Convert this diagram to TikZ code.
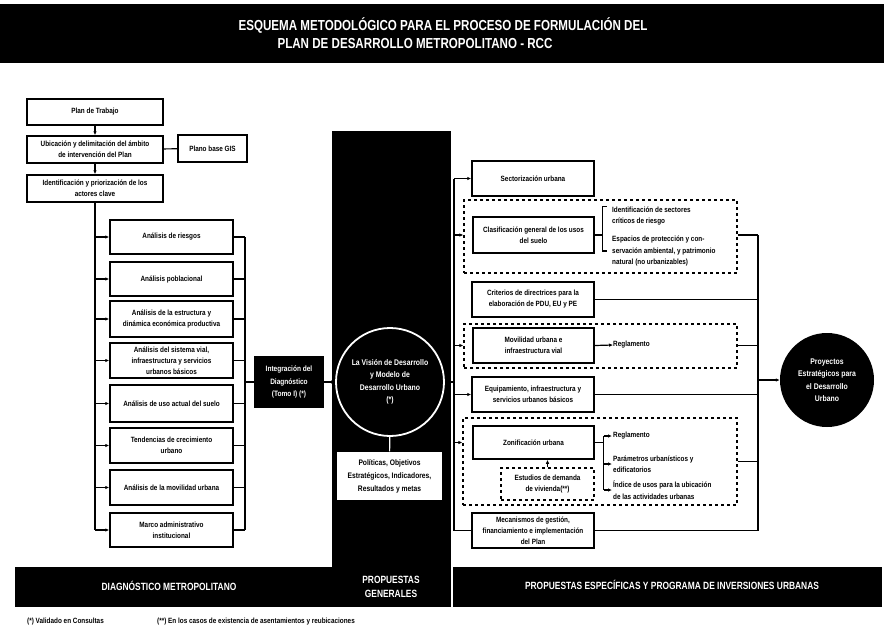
\documentclass[tikz,border=0pt]{standalone}
\usepackage{fontspec}
\setmainfont{Liberation Sans}[FakeStretch=0.84]
\newfontfamily\titlefont{Liberation Sans}[FakeStretch=0.8]
\usepackage{xcolor}
\usepackage{tikz}
\usetikzlibrary{arrows.meta}
\definecolor{PDMInk}{HTML}{000000}
\definecolor{PDMPaper}{HTML}{FFFFFF}

\begin{document}
\begin{tikzpicture}[x=1pt,y=-1pt,
  box/.style={draw=PDMInk,line width=1.5pt,fill=PDMPaper,align=center,inner sep=0pt,font=\bfseries\fontsize{7.6}{11}\selectfont},
  dbox/.style={box,dashed,line width=1.2pt},
  grp/.style={draw=PDMInk,line width=1.2pt,dashed,inner sep=0pt},
  lnk/.style={draw=PDMInk,line width=1.2pt},
  arr/.style={lnk,-{Latex[length=4pt,width=3.5pt]}},
  note/.style={anchor=west,align=left,inner sep=0pt,font=\bfseries\fontsize{7.6}{11.5}\selectfont},
  ttl/.style={text=PDMPaper,inner sep=0pt,font=\titlefont\bfseries\fontsize{14.5}{17}\selectfont},
  bartxt/.style={text=PDMPaper,align=center,inner sep=0pt,font=\titlefont\bfseries\fontsize{10.5}{14}\selectfont},
  ring/.style={circle,inner sep=0pt,align=center,text=PDMPaper,font=\bfseries\fontsize{8.2}{12.5}\selectfont}]
\path[use as bounding box] (0,0) rectangle (884,629);
\fill[PDMInk] (0,4) rectangle (884,63);
\node[ttl] (title1) at (443,26) {ESQUEMA METODOLÓGICO PARA EL PROCESO DE FORMULACIÓN DEL};
\node[ttl] (title2) at (415,44) {PLAN DE DESARROLLO METROPOLITANO - RCC};
\fill[PDMInk] (332,131) rectangle (451,567);
\fill[PDMInk] (15,567) rectangle (882,607);
\draw[PDMPaper,line width=1.4pt] (452,567) -- (452,607);
\node[bartxt] (bar1) at (169,586) {DIAGNÓSTICO METROPOLITANO};
\node[bartxt] (bar2) at (391,587) {PROPUESTAS\\GENERALES};
\node[bartxt] (bar3) at (672,585) {PROPUESTAS ESPECÍFICAS Y PROGRAMA DE INVERSIONES URBANAS};
\node[note] (fn1) at (27,622) {(*) Validado en Consultas};
\node[note] (fn2) at (157,622) {(**) En los casos de existencia de asentamientos y reubicaciones};
\node[box,minimum width=136pt,minimum height=26pt] (plan) at (95,112) {Plan de Trabajo};
\node[box,minimum width=136pt,minimum height=27pt] (ubic) at (95,149.5) {Ubicación y delimitación del ámbito\\de intervención del Plan};
\node[box,minimum width=69pt,minimum height=27pt] (gis) at (212.5,148.5) {Plano base GIS};
\node[box,minimum width=136pt,minimum height=27pt] (ident) at (95,188.5) {Identificación y priorización de los\\actores clave};
\node[box,minimum width=123pt,minimum height=34pt] (a1) at (171.5,237) {Análisis de riesgos};
\node[box,minimum width=123pt,minimum height=34pt] (a2) at (171.5,279) {Análisis poblacional};
\node[box,minimum width=123pt,minimum height=36pt] (a3) at (171.5,319) {Análisis de la estructura y\\dinámica económica productiva};
\node[box,minimum width=123pt,minimum height=35pt] (a4) at (171.5,360.5) {Análisis del sistema vial,\\infraestructura y servicios\\urbanos básicos};
\node[box,minimum width=123pt,minimum height=37pt] (a5) at (171.5,403.5) {Análisis de uso actual del suelo};
\node[box,minimum width=123pt,minimum height=35pt] (a6) at (171.5,445.5) {Tendencias de crecimiento\\urbano};
\node[box,minimum width=123pt,minimum height=35pt] (a7) at (171.5,487.5) {Análisis de la movilidad urbana};
\node[box,minimum width=123pt,minimum height=34pt] (a8) at (171.5,530) {Marco administrativo\\institucional};
\node[box,fill=PDMInk,text=PDMPaper,minimum width=68pt,minimum height=50pt,font=\bfseries\fontsize{7.8}{12.5}\selectfont] (sint) at (289,382) {Integración del\\Diagnóstico\\(Tomo I) (*)};
\node[ring,draw=PDMPaper,line width=1.8pt,minimum size=108pt] (vision) at (390,382) {La Visión de Desarrollo\\y Modelo de\\Desarrollo Urbano\\(*)};
\node[box,draw=none,minimum width=105pt,minimum height=48pt,font=\bfseries\fontsize{8}{13}\selectfont] (polit) at (389.5,476) {Políticas, Objetivos\\Estratégicos, Indicadores,\\Resultados y metas};
\node[box,minimum width=122pt,minimum height=35pt] (sect) at (533,178.5) {Sectorización urbana};
\node[grp,minimum width=273pt,minimum height=73pt] (gclas) at (600.5,236.5) {};
\node[box,minimum width=121pt,minimum height=36pt] (clas) at (533.5,235) {Clasificación general de los usos\\del suelo};
\node[note] (idsec) at (612,216) {Identificación de sectores\\críticos de riesgo};
\node[note] (esp) at (612,251) {Espacios de protección y con-\\servación ambiental, y patrimonio\\natural (no urbanizables)};
\node[box,minimum width=122pt,minimum height=35pt] (crit) at (533,299.5) {Criterios de directrices para la\\elaboración de PDU, EU y PE};
\node[grp,minimum width=273pt,minimum height=44pt] (gmov) at (600.5,346) {};
\node[box,minimum width=121pt,minimum height=35pt] (mov) at (533.5,345.5) {Movilidad urbana e\\infraestructura vial};
\node[note] (reg1) at (613,345) {Reglamento};
\node[box,minimum width=122pt,minimum height=35pt] (equip) at (533,394.5) {Equipamiento, infraestructura y\\servicios urbanos básicos};
\node[grp,minimum width=274pt,minimum height=87pt] (gzon) at (600,461.5) {};
\node[box,minimum width=121pt,minimum height=33pt] (zon) at (533.5,442.5) {Zonificación urbana};
\node[dbox,minimum width=93pt,minimum height=32pt] (viv) at (547.5,484) {Estudios de demanda\\de vivienda(**)};
\node[note] (reg2) at (613,436) {Reglamento};
\node[note] (par) at (613,464) {Parámetros urbanísticos y\\edificatorios};
\node[note] (ind) at (613,490) {Índice de usos para la ubicación\\de las actividades urbanas};
\node[box,minimum width=122pt,minimum height=35pt] (mec) at (533,530.5) {Mecanismos de gestión,\\financiamiento e implementación\\del Plan};
\node[ring,fill=PDMInk,minimum size=94pt] (proy) at (827,380) {Proyectos\\Estratégicos para\\el Desarrollo\\Urbano};
\coordinate (lb) at (245,0);
\coordinate (rt) at (454,0);
\coordinate (rr) at (758,0);
\draw[arr] (plan) -- (ubic);
\draw[arr] (ubic) -- (ident);
\draw[lnk] (ubic) -- (gis);
\draw[lnk] (ident.south) -- (ident.south |- a8.west);
\foreach \n in {a1,a2,a3,a4,a5,a6,a7,a8}{
  \draw[arr] (ident.south |- \n.west) -- (\n.west);
  \draw[lnk] (\n.east) -- (lb |- \n.east);
}
\draw[lnk] (lb |- a1.east) -- (lb |- a8.east);
\draw[lnk] (lb |- sint.west) -- (sint.west);
\draw[arr] (sint) -- (vision);
\draw[PDMPaper,line width=1.2pt] (vision) -- (polit);
\draw[lnk] (vision.east) -- (rt |- vision.east);
\draw[lnk] (rt |- sect.west) -- (rt |- mec.west);
\draw[arr] (rt |- sect.west) -- (sect.west);
\draw[arr] (rt |- clas.west) -- (gclas.west |- clas.west);
\draw[arr] (rt |- mov.west) -- (gmov.west |- mov.west);
\draw[arr] (rt |- equip.west) -- (equip.west);
\draw[arr] (rt |- zon.west) -- (gzon.west |- zon.west);
\draw[lnk] (rt |- mec.west) -- (mec.west);
\draw[lnk] (clas.east) -- ++(8,0) coordinate (cb);
\draw[lnk] ([xshift=4pt]cb |- idsec.north) -- (cb |- idsec.north) -- (cb |- esp.center) -- ([xshift=4pt]cb |- esp.center);
\draw[arr] (mov.east) -- (reg1.west);
\draw[arr] (viv.north) -- (viv.north |- zon.south);
\draw[lnk] (zon.east) -- ++(9,0) coordinate (zb);
\draw[lnk] (zb |- reg2.west) -- (zb |- ind.west);
\foreach \n in {reg2,par,ind}{
  \draw[arr] (zb |- \n.west) -- ([xshift=-1pt]\n.west);
}
\draw[lnk] (gclas.east |- clas.east) -- (rr |- clas.east);
\draw[lnk] (crit.east) -- (rr |- crit.east);
\draw[lnk] (gmov.east |- mov.east) -- (rr |- mov.east);
\draw[lnk] (equip.east) -- (rr |- equip.east);
\draw[lnk] (gzon.east) -- (rr |- gzon.east);
\draw[lnk] (mec.east) -- (rr |- mec.east);
\draw[lnk] (rr |- clas.east) -- (rr |- mec.east);
\draw[arr] (rr |- proy.west) -- (proy.west);
\end{tikzpicture}
\end{document}
